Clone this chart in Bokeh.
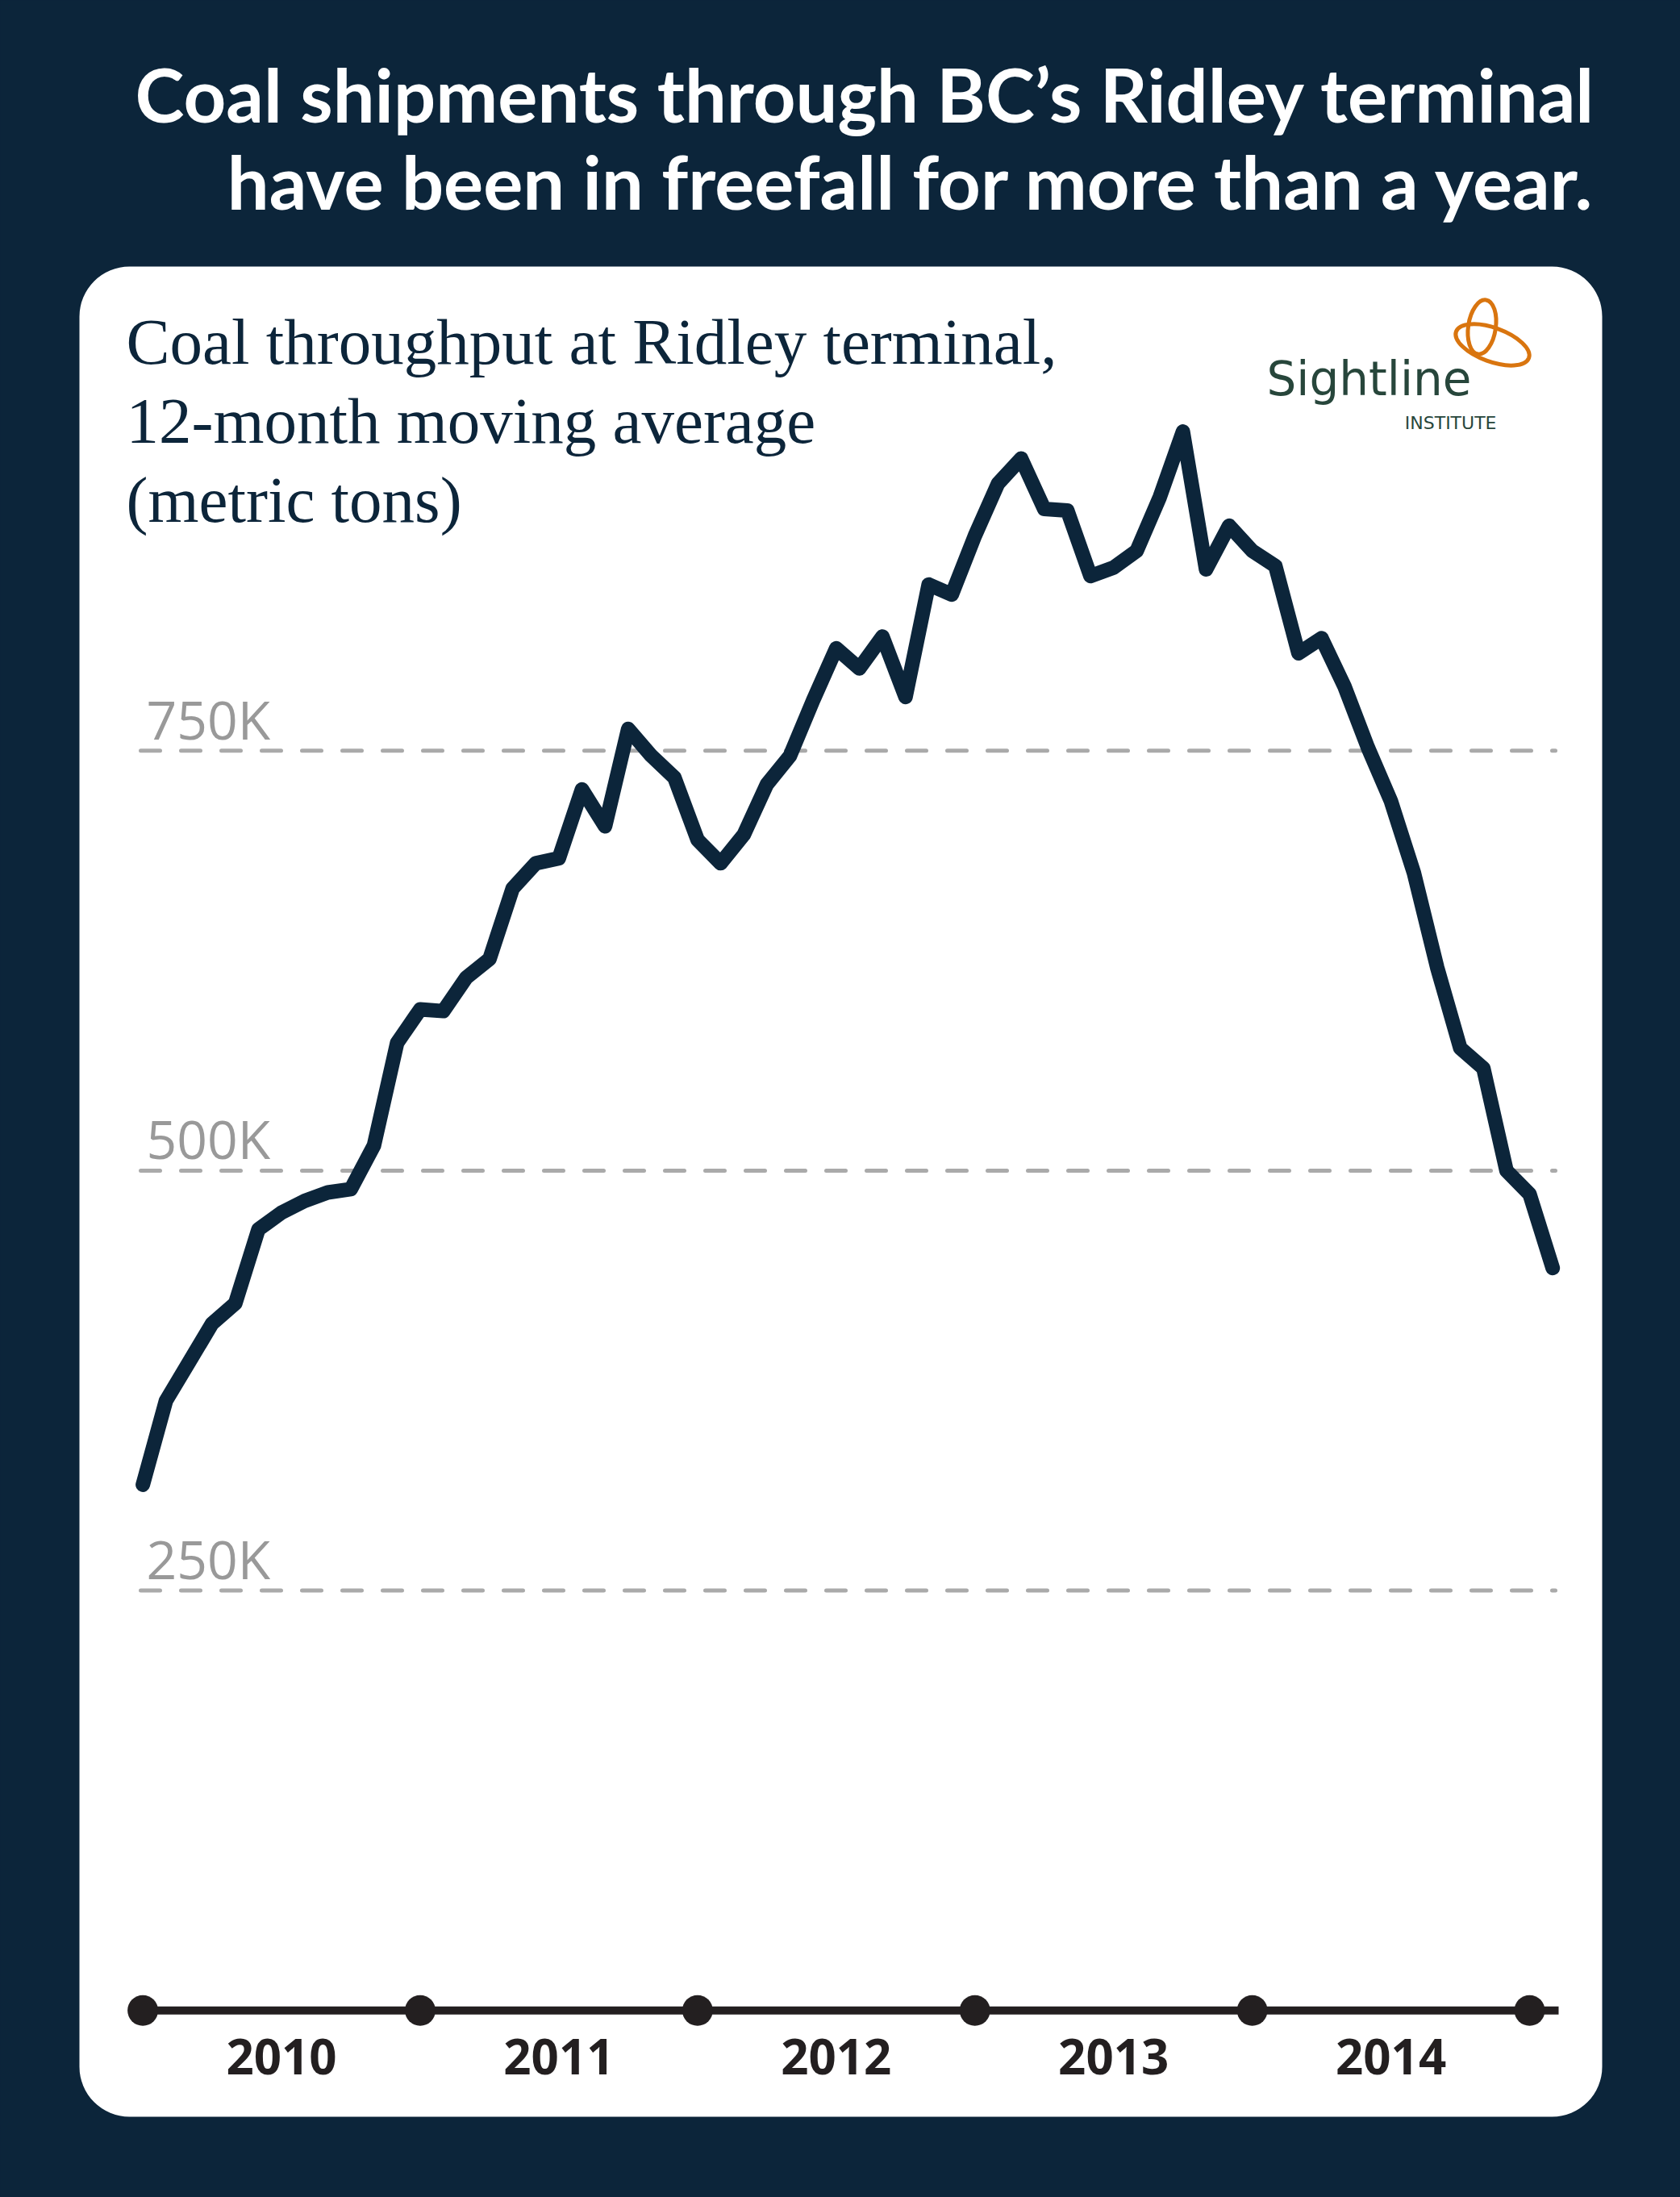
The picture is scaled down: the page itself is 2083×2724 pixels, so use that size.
from bokeh.plotting import figure
from bokeh.embed import file_html
from bokeh.resources import INLINE
from bokeh.core.properties import value

# 12-month moving average of coal throughput at Ridley terminal (thousand metric tons)
# monthly points, Jan 2010 .. Feb 2015
months = list(range(62))
coal_kt = [313, 363, 386, 409, 421, 465, 475, 482, 487, 489,
           515, 576, 596, 595, 615, 626, 668, 683, 686, 727,
           705, 763, 747, 734, 697, 683, 700, 730, 747, 780,
           811, 799, 818, 782, 849, 843, 878, 909, 924, 894,
           893, 854, 859, 869, 901, 940, 858, 884, 869, 860,
           808, 817, 788, 752, 720, 677, 621, 573, 561, 500,
           486, 442]

grid_vals = [250, 500, 750]
grid_labels = ["250K", "500K", "750K"]
year_ticks = [0, 12, 24, 36, 48, 60]          # month index of each Jan
year_label_pos = [6, 18, 30, 42, 54]
year_labels = ["2010", "2011", "2012", "2013", "2014"]

NAVY = "#0c253a"
INK = "#231f20"

# canvas layout in page pixels (bokeh's page has no body margin)
W, H = 2083, 2724
X0, PXM = 176.6, 28.657     # px of month 0, px per month
Y0, PXK = 2492.2, 2.0825    # px of 0 t, px per thousand t
BASE_FIX = 0.38             # svg text sits this many em lower than asked

def X(px):
    return (px - X0) / PXM

def Y(py):
    return (Y0 - py) / PXK

def TY(py, size):
    # y for a text baseline at page px py
    return Y(py - BASE_FIX * size)

p = figure(width=W, height=H, output_backend="svg", toolbar_location=None,
           x_range=(X(0), X(W)), y_range=(Y(H), Y(0)),
           x_axis_type=None, y_axis_type=None, min_border=0, tools="")
p.grid.visible = False
p.outline_line_color = None
p.background_fill_color = NAVY
p.border_fill_color = NAVY

# white card
p.quad(left=X(98), right=X(1986), top=Y(330), bottom=Y(2624),
       fill_color="white", line_color=None, border_radius=62)

# headline
p.text(x=[X(1978)] * 2, y=[TY(151, 92), TY(259, 92)],
       text=["Coal shipments through BC\u2019s Ridley terminal",
             "have been in freefall for more than a year."],
       text_font=value("Lato"), text_font_style="bold", text_font_size="92px",
       text_color="white", text_align="right", text_baseline="alphabetic")

# chart subtitle
p.text(x=[X(156)] * 3, y=[TY(454, 81), TY(552, 81), TY(650, 81)],
       text=["Coal throughput at Ridley terminal,", "12-month moving average",
             "(metric tons)"],
       text_font=value("Liberation Serif"), text_font_size="81px",
       text_color=NAVY, text_align="left", text_baseline="alphabetic")

# logo
p.ellipse(x=[X(1837), X(1850)], y=[Y(405), Y(427)], width=[34, 96], height=[68, 42],
          angle=[-0.15, -0.35], width_units="screen", height_units="screen",
          fill_color=None, line_color="#d9750f", line_width=5)
p.text(x=[X(1697)], y=[TY(492, 58)], text=["Sightline"],
       text_font=value("DejaVu Sans"), text_font_size="58px",
       text_color="#27463b", text_align="center", text_baseline="alphabetic")
p.text(x=[X(1855)], y=[TY(532, 22)], text=["INSTITUTE"],
       text_font=value("DejaVu Sans"), text_font_size="22px",
       text_color="#27463b", text_align="right", text_baseline="alphabetic")

# dashed gridlines + labels
p.segment(x0=[X(174)] * 3, x1=[X(1928)] * 3, y0=grid_vals, y1=grid_vals,
          line_color="#aaaaaa", line_width=5, line_dash="24 26", line_cap="round")
p.text(x=[X(181)] * 3, y=[v + (15 + BASE_FIX * 66) / PXK for v in grid_vals],
       text=grid_labels,
       text_font=value("Open Sans"), text_font_size="66px", text_color="#999999",
       text_align="left", text_baseline="alphabetic")

# x axis with year dots
p.segment(x0=[X(174)], x1=[X(1932)], y0=[0], y1=[0], line_color=INK, line_width=10)
p.scatter(x=year_ticks, y=[0] * len(year_ticks), size=38, marker="circle",
          fill_color=INK, line_color=None)
p.text(x=year_label_pos, y=[TY(2572, 60)] * len(year_label_pos), text=year_labels,
       text_font=value("Open Sans"), text_font_style="bold", text_font_size="60px",
       text_color=INK, text_align="center", text_baseline="alphabetic")

# the series
p.line(months, coal_kt, line_color=NAVY, line_width=18,
       line_join="round", line_cap="round")

html = file_html(p, INLINE, "Coal shipments through BC's Ridley terminal")
html = html.replace("<head>", "<head><style>html,body{margin:0;overflow:hidden;background:%s;}</style>" % NAVY, 1)
open("out.html", "w").write(html)
